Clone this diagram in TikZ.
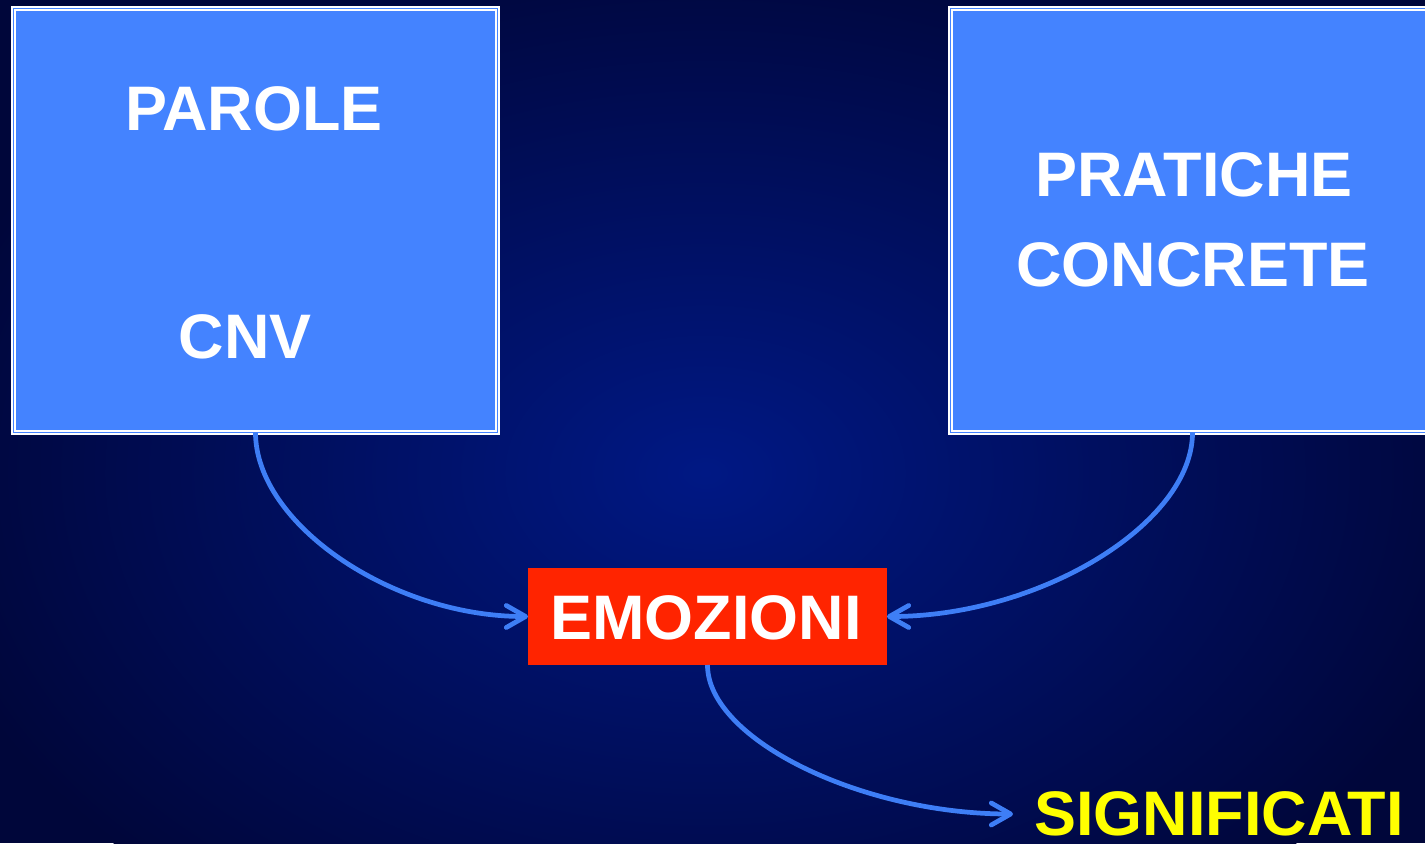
\documentclass[tikz,border=0pt]{standalone}
\usepackage{fontspec}
\setmainfont{Liberation Sans}
\usetikzlibrary{arrows.meta}

\definecolor{sfondo}{RGB}{0,6,58}
\definecolor{alone}{RGB}{0,24,132}
\definecolor{celeste}{RGB}{68,131,255}
\definecolor{azzurro}{RGB}{62,126,246}
\definecolor{rosso}{RGB}{255,36,0}
\definecolor{giallo}{RGB}{255,255,0}

\begin{document}
\begin{tikzpicture}[
    riquadro/.style={
        draw=white,
        double=celeste,
        double distance=0.6pt,
        line width=1.2pt,
        fill=celeste,
        rectangle,
        inner sep=0pt,
        outer sep=0pt,
        minimum width=9.68cm,
        minimum height=8.48cm
    },
    testo/.style={
        text=white,
        inner sep=0pt,
        font=\fontsize{35.8}{42}\selectfont\bfseries
    },
    freccia/.style={
        draw=azzurro,
        line width=2.7pt,
        -{Straight Barb[length=11pt,width=12.5pt,line cap=round,line join=round]}
    }
]

    % Sfondo sfumato
    \clip (0,0) rectangle (28.5,16.86);
    \fill[sfondo] (0,0) rectangle (28.5,16.86);
    \shade[inner color=alone, outer color=sfondo] (14.1,7.4) ellipse (16 and 11);

    % Riquadri in alto
    \node[riquadro] (parole_box) at (5.11, 12.45) {};
    \node[riquadro] (pratiche_box) at (23.85, 12.45) {};

    % Testi dei riquadri
    \node[testo] (parole) at (5.08, 14.68) {PAROLE};
    \node[testo] (cnv) at (4.90, 10.12) {CNV};
    \node[testo] (pratiche) at (23.88, 13.36) {PRATICHE};
    \node[testo] (concrete) at (23.86, 11.56) {CONCRETE};

    % Box centrale
    \node[fill=rosso, minimum width=7.18cm, minimum height=1.94cm, inner sep=0pt, outer sep=0pt] (emozioni_box) at (14.15, 4.53) {};
    \node[testo] (emozioni) at (14.12, 4.50) {EMOZIONI};

    % Testo finale
    \node[testo, text=giallo] (significati) at (24.38, 0.58) {SIGNIFICATI};

    % Frecce curve
    \draw[freccia] (parole_box.south) .. controls +(0,-1.82) and +(-2.73,0) .. (emozioni_box.west);
    \draw[freccia] (pratiche_box.south) .. controls +(0,-1.82) and +(3.06,0) .. (emozioni_box.east);
    \draw[freccia, shorten >=0.42cm] (emozioni_box.south) .. controls +(0,-1.48) and +(-3.46,0) .. (significati.west);

\end{tikzpicture}
\end{document}
